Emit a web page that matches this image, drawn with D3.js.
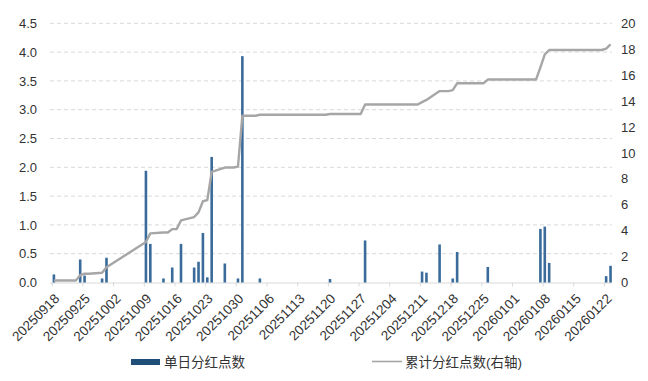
<!DOCTYPE html>
<html>
<head>
<meta charset="utf-8">
<script src="https://cdn.jsdelivr.net/npm/d3@7"></script>
<style>
body{margin:0;background:#fff;}
svg text{font-family:"Liberation Sans",Arial,"Noto Sans CJK SC",sans-serif;fill:#333;}
</style>
</head>
<body>
<div id="chart"></div>
<script>
// single-day dividend points (left axis)
const barDates=['20250918','20250924','20250925','20250929','20250930','20251009','20251010','20251013','20251015','20251017',
  '20251020','20251021','20251022','20251023','20251024','20251027','20251030','20251031','20251104','20251120',
  '20251128','20251211','20251212','20251215','20251218','20251219','20251226','20260107','20260108','20260109',
  '20260122','20260123']
const barValues=[0.14,0.40,0.12,0.07,0.43,1.94,0.67,0.07,0.26,0.67,
  0.26,0.36,0.86,0.09,2.18,0.33,0.07,3.93,0.07,0.06,
  0.73,0.19,0.17,0.66,0.07,0.53,0.27,0.93,0.97,0.34,
  0.11,0.29]

// cumulative dividend points (right axis), vertices of the line
const lineDates=['20250918','20250923','20250924','20250925','20250926','20250929','20250930','20251009','20251010','20251013',
  '20251014','20251015','20251016','20251017','20251020','20251021','20251022','20251023','20251024','20251027',
  '20251029','20251030','20251031','20251103','20251104','20251119','20251120','20251127','20251128','20251210',
  '20251211','20251212','20251215','20251217','20251218','20251219','20251225','20251226','20260106','20260107',
  '20260108','20260109','20260121','20260122','20260123']
const lineValues=[0.16,0.16,0.56,0.68,0.68,0.75,1.18,3.12,3.79,3.86,
  3.86,4.12,4.12,4.79,5.05,5.41,6.27,6.36,8.54,8.87,
  8.87,8.94,12.87,12.87,12.94,12.94,13.00,13.00,13.73,13.73,
  13.92,14.09,14.77,14.77,14.84,15.37,15.37,15.66,15.66,16.6,
  17.6,17.94,17.94,18.05,18.38]

const xTickLabels=['20250918','20250925','20251002','20251009','20251016','20251023','20251030','20251106','20251113','20251120',
  '20251127','20251204','20251211','20251218','20251225','20260101','20260108','20260115','20260122']
const leftTicks=[0,0.5,1,1.5,2,2.5,3,3.5,4,4.5]
const rightTicks=[0,2,4,6,8,10,12,14,16,18,20]
const seriesNames=['单日分红点数','累计分红点数(右轴)']

const W=648,H=381
const parse=d3.timeParse('%Y%m%d')
const halfDay=d=>d3.timeHour.offset(parse(d),12)

const svg=d3.select('#chart').append('svg')
  .attr('width',W).attr('height',H)

const x=d3.scaleTime()
  .domain([parse('20250918'),parse('20260124')])
  .range([51.7,51.7+128*4.383])
const yL=d3.scaleLinear().domain([0,4.5]).range([282.5,23.3])
const yR=d3.scaleLinear().domain([0,20]).range([282.5,23.3])

// grid
svg.append('g').selectAll('line')
  .data(leftTicks.filter(d=>d>0))
  .join('line')
  .attr('x1',50).attr('x2',612)
  .attr('y1',d=>yL(d)).attr('y2',d=>yL(d))
  .attr('stroke','#d9d9d9').attr('stroke-width',1)
  .attr('stroke-dasharray','4,3')

// x axis
const xAxis=d3.axisBottom(x)
  .tickValues(xTickLabels.map(parse))
  .tickSize(4)
  .tickFormat(d3.timeFormat('%Y%m%d'))
const gx=svg.append('g')
  .attr('transform',`translate(0,${yL(0)})`)
  .call(xAxis)
gx.select('.domain').attr('stroke','#d9d9d9').attr('d',`M50,0.5H612`)
gx.selectAll('.tick line').attr('stroke','#d9d9d9')
gx.selectAll('.tick text')
  .attr('font-size',13.5)
  .attr('text-anchor','end')
  .attr('y',0).attr('dy',0)
  .attr('transform','translate(8,17) rotate(-45)')

// left axis
const yAxisL=d3.axisLeft(yL).tickValues(leftTicks).tickSize(0).tickFormat(d3.format('.1f'))
const gl=svg.append('g').attr('transform','translate(39,0)').call(yAxisL)
gl.select('.domain').remove()
gl.selectAll('text').attr('font-size',13).attr('x',-2)

// right axis
const yAxisR=d3.axisRight(yR).tickValues(rightTicks).tickSize(0)
const gr=svg.append('g').attr('transform','translate(618,0)').call(yAxisR)
gr.select('.domain').remove()
gr.selectAll('text').attr('font-size',13).attr('x',3)

// bars
const bars=barDates.map((d,i)=>({date:halfDay(d),value:barValues[i]}))
svg.append('g').selectAll('rect')
  .data(bars)
  .join('rect')
  .attr('x',d=>x(d.date)-1.3)
  .attr('width',2.6)
  .attr('y',d=>yL(d.value))
  .attr('height',d=>yL(0)-yL(d.value))
  .attr('fill','#3a6b9a')

// cumulative line
const pts=lineDates.map((d,i)=>({date:halfDay(d),value:lineValues[i]}))
svg.append('path')
  .datum(pts)
  .attr('fill','none')
  .attr('stroke','#a6a6a6')
  .attr('stroke-width',2.4)
  .attr('stroke-linejoin','round')
  .attr('d',d3.line().x(d=>x(d.date)).y(d=>yR(d.value)))

// legend
const lg=svg.append('g')
lg.append('rect').attr('x',131).attr('y',359).attr('width',29).attr('height',6).attr('fill','#1f4e79')
lg.append('text').attr('x',164).attr('y',367).attr('font-size',13.5).text(seriesNames[0])
lg.append('line').attr('x1',372).attr('x2',402).attr('y1',361.5).attr('y2',361.5)
  .attr('stroke','#a6a6a6').attr('stroke-width',1.6)
lg.append('text').attr('x',405).attr('y',367).attr('font-size',13.5).text(seriesNames[1])
</script>
</body>
</html>
